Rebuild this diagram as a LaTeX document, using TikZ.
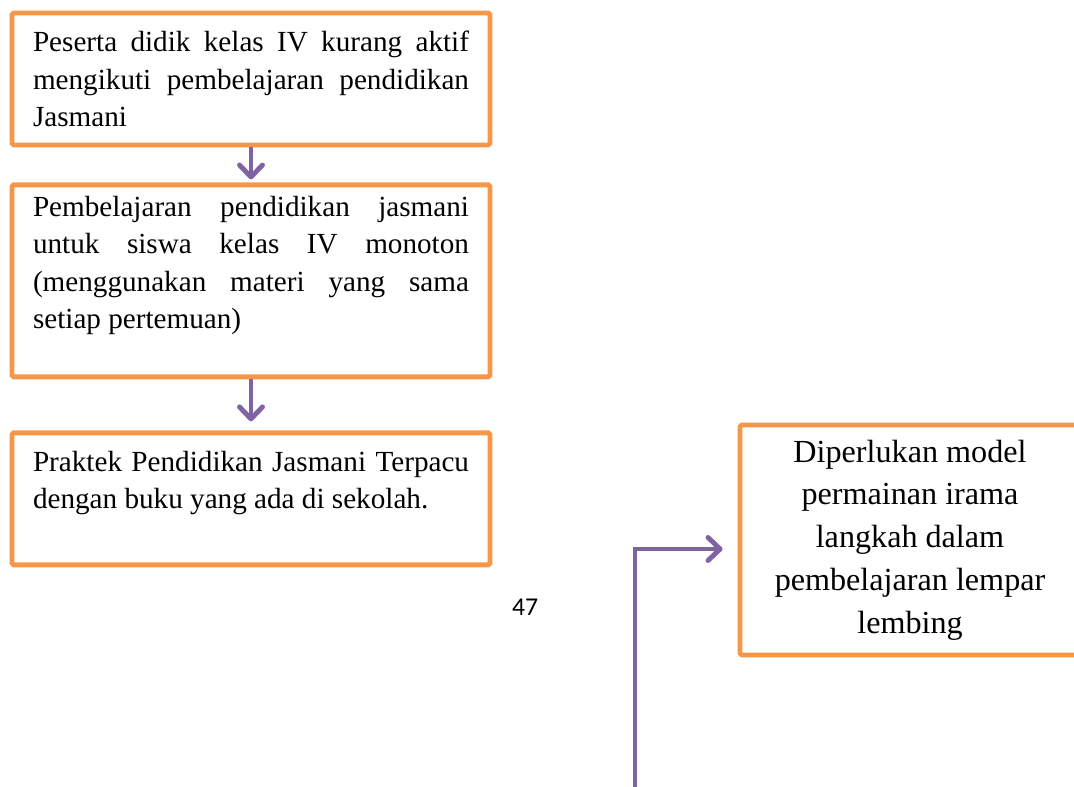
\documentclass[tikz,border=0pt]{standalone}
\usepackage{fontspec}
\setmainfont{Liberation Serif}
\newfontfamily\pagefont{Carlito}
\usetikzlibrary{positioning, arrows.meta}

\definecolor{boxorange}{HTML}{F79646}
\definecolor{arrowpurple}{HTML}{8064A2}
\hyphenpenalty=10000

\begin{document}
\begin{tikzpicture}[
        node distance=0.7cm,
        box/.style={draw=boxorange, rectangle, line width=2.8pt, rounded corners=1pt, minimum width=9.56cm, text width=8.72cm, inner xsep=0.42cm, align=justify, font=\fontsize{16.6}{21.3}\selectfont},
        sidebox/.style={draw=boxorange, rectangle, line width=2.8pt, rounded corners=1pt, minimum width=6.8cm, minimum height=4.6cm, align=center, font=\fontsize{18.3}{24.3}\selectfont},
        arrow/.style={draw=arrowpurple, line width=2.8pt, -{Straight Barb[length=2.4mm, width=4.6mm, round]}},
        pagenum/.style={font=\pagefont\fontsize{14.6}{17}\selectfont}
    ]
    \useasboundingbox (0,0) rectangle (21.48,-15.74);
    \clip (0,0) rectangle (21.48,-15.74);

    % --- LEFT: chain of problems ---
    \node[box, minimum height=2.64cm] (aktif) at (5.02,-1.58) {Peserta didik kelas IV kurang aktif mengikuti pembelajaran pendidikan Jasmani};
    \node[box, minimum height=3.84cm, below=0.7cm of aktif] (monoton) {Pembelajaran pendidikan jasmani\linebreak untuk siswa kelas IV monoton\linebreak (menggunakan materi yang sama\linebreak setiap pertemuan)\\~};
    \node[box, minimum height=2.64cm, below=1.02cm of monoton] (praktek) {Praktek Pendidikan Jasmani Terpacu dengan buku yang ada di sekolah.\\~};
    \draw[arrow, shorten >=0.06cm] (aktif) -- (monoton);
    \draw[arrow, shorten >=0.18cm] (monoton) -- (praktek);

    \node[pagenum] (hal) at (10.5,-12.14) {47};

    % --- RIGHT: what is needed ---
    \node[sidebox] (model) at (18.2,-10.8) {Diperlukan model\\permainan irama\\langkah dalam\\pembelajaran lempar\\lembing};
    \coordinate (start) at (12.7,-16);
    \draw[arrow, shorten >=0.3cm] (start) |- ([yshift=-0.18cm]model.west);
\end{tikzpicture}
\end{document}
